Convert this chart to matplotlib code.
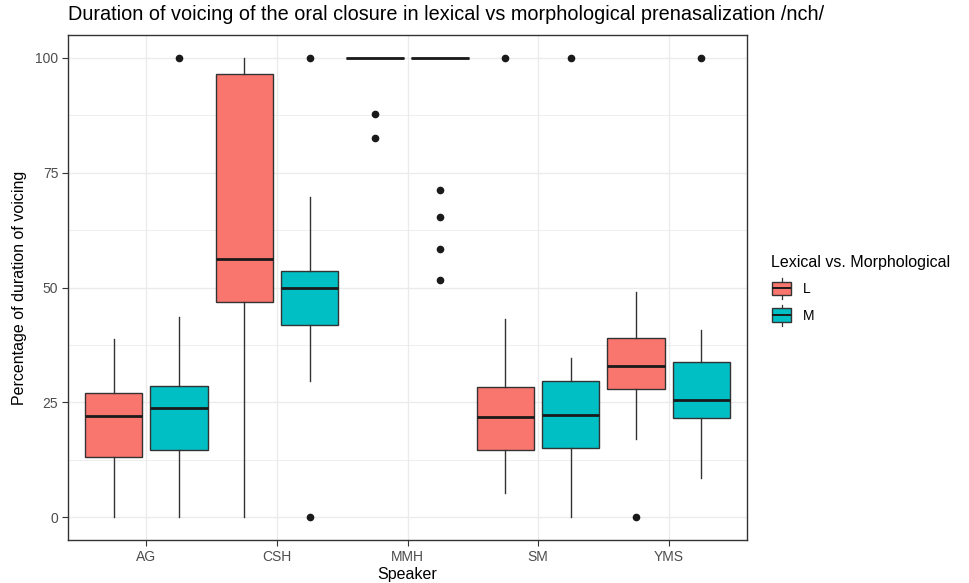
import numpy as np
import matplotlib
matplotlib.use("Agg")
import matplotlib.pyplot as plt
from matplotlib.patches import Rectangle
from matplotlib.lines import Line2D
from matplotlib.legend_handler import HandlerBase

plt.rcParams['font.family'] = ['Liberation Sans', 'DejaVu Sans']

# Data (percentage of voicing duration)
speakers = ["AG", "CSH", "MMH", "SM", "YMS"]
groups = ["L", "M"]
group_colors = {"L": "#F8766D", "M": "#00BFC4"}

# per speaker, per group: lower whisker, Q1, median, Q3, upper whisker
stats_L = [
    (0.0, 13.0, 22.1, 27.1, 38.7),
    (0.0, 46.9, 56.3, 96.4, 100.0),
    (100.0, 100.0, 100.0, 100.0, 100.0),
    (5.3, 14.5, 21.9, 28.3, 43.1),
    (17.1, 27.8, 33.0, 39.1, 49.1),
]
stats_M = [
    (0.0, 14.5, 23.8, 28.5, 43.6),
    (29.7, 41.8, 50.0, 53.5, 69.8),
    (100.0, 100.0, 100.0, 100.0, 100.0),
    (0.0, 15.0, 22.2, 29.6, 34.6),
    (8.4, 21.5, 25.5, 33.8, 40.7),
]
outliers_L = [[], [], [87.9, 82.6], [100.0], [0.0]]
outliers_M = [[100.0], [100.0, 0.0], [71.2, 65.4, 58.3, 51.6], [100.0], [100.0]]


def make_stats(rows, fliers):
    out = []
    for (lo, q1, med, q3, hi), fl in zip(rows, fliers):
        out.append(dict(whislo=lo, q1=q1, med=med, q3=q3, whishi=hi, fliers=fl))
    return out


class BoxKeyHandler(HandlerBase):
    # small boxplot glyph, like ggplot's legend keys
    def create_artists(self, legend, orig_handle, xdescent, ydescent, width, height, fontsize, trans):
        color = orig_handle.get_facecolor()
        w = 14
        h = 10
        x0 = (width - w) / 2 - xdescent
        y0 = -ydescent + (height - h) / 2
        xm = x0 + w / 2
        stub_lo = Line2D([xm, xm], [y0 - 2.5, y0], color="#333333", lw=0.9, transform=trans)
        stub_hi = Line2D([xm, xm], [y0 + h, y0 + h + 2.5], color="#333333", lw=0.9, transform=trans)
        rect = Rectangle((x0, y0), w, h, facecolor=color, edgecolor="#333333", lw=1.0, transform=trans)
        med = Line2D([x0, x0 + w], [y0 + h / 2, y0 + h / 2], color="#1a1a1a", lw=1.4,
                     solid_capstyle="butt", transform=trans)
        return [stub_lo, stub_hi, rect, med]


fig = plt.figure(figsize=(9.7, 5.83), dpi=100)
ax = fig.add_axes([68 / 970, 43 / 583, 679 / 970, 505 / 583])

x = np.arange(1, len(speakers) + 1)
offsets = {"L": -0.25, "M": 0.25}
all_stats = {"L": make_stats(stats_L, outliers_L), "M": make_stats(stats_M, outliers_M)}

for g in groups:
    ax.bxp(all_stats[g], positions=x + offsets[g], widths=0.44, patch_artist=True,
           showcaps=False, manage_ticks=False,
           boxprops=dict(facecolor=group_colors[g], edgecolor="#333333", lw=1.0),
           whiskerprops=dict(color="#333333", lw=1.0),
           medianprops=dict(color="#1a1a1a", lw=2.0, solid_capstyle="butt"),
           flierprops=dict(marker="o", markerfacecolor="#1a1a1a", markeredgecolor="#1a1a1a",
                           markersize=4.5, linestyle="none"),
           zorder=3)

ax.set_xlim(0.4, len(speakers) + 0.6)
ax.set_ylim(-5, 105)
ax.set_xticks(x)
ax.set_xticklabels(speakers)
ax.set_yticks([0, 25, 50, 75, 100])
ax.set_yticks([12.5, 37.5, 62.5, 87.5], minor=True)
ax.grid(True, which="major", color="#EBEBEB", lw=1.0, zorder=0)
ax.grid(True, which="minor", axis="y", color="#EBEBEB", lw=0.6, zorder=0)
ax.set_axisbelow(True)
ax.tick_params(axis="both", which="major", length=4, color="#333333", labelsize=10,
               labelcolor="#4D4D4D", pad=3)
ax.tick_params(axis="y", which="minor", length=0)
for s in ax.spines.values():
    s.set_color("#333333")
    s.set_linewidth(1.0)

ax.set_xlabel("Speaker", fontsize=11.5, color="black", labelpad=2)
ax.set_ylabel("Percentage of duration of voicing", fontsize=11.5, color="black", labelpad=6)

fig.text(68 / 970, 1 - 15 / 583, "Duration of voicing of the oral closure in lexical vs morphological prenasalization /nch/",
         fontsize=14.3, va="center", ha="left")

handles = [Rectangle((0, 0), 1, 1, facecolor=group_colors[g]) for g in groups]
leg = fig.legend(handles, groups, title="Lexical vs. Morphological", loc="upper left",
                 bbox_to_anchor=(765 / 970, 1 - 249 / 583), frameon=False,
                 handler_map={Rectangle: BoxKeyHandler()}, fontsize=10,
                 title_fontsize=11.5, handlelength=1.6, handleheight=1.2,
                 labelspacing=0.85, handletextpad=0.7, borderaxespad=0)
leg._legend_box.align = "left"

fig.savefig("out.png", dpi=100)
